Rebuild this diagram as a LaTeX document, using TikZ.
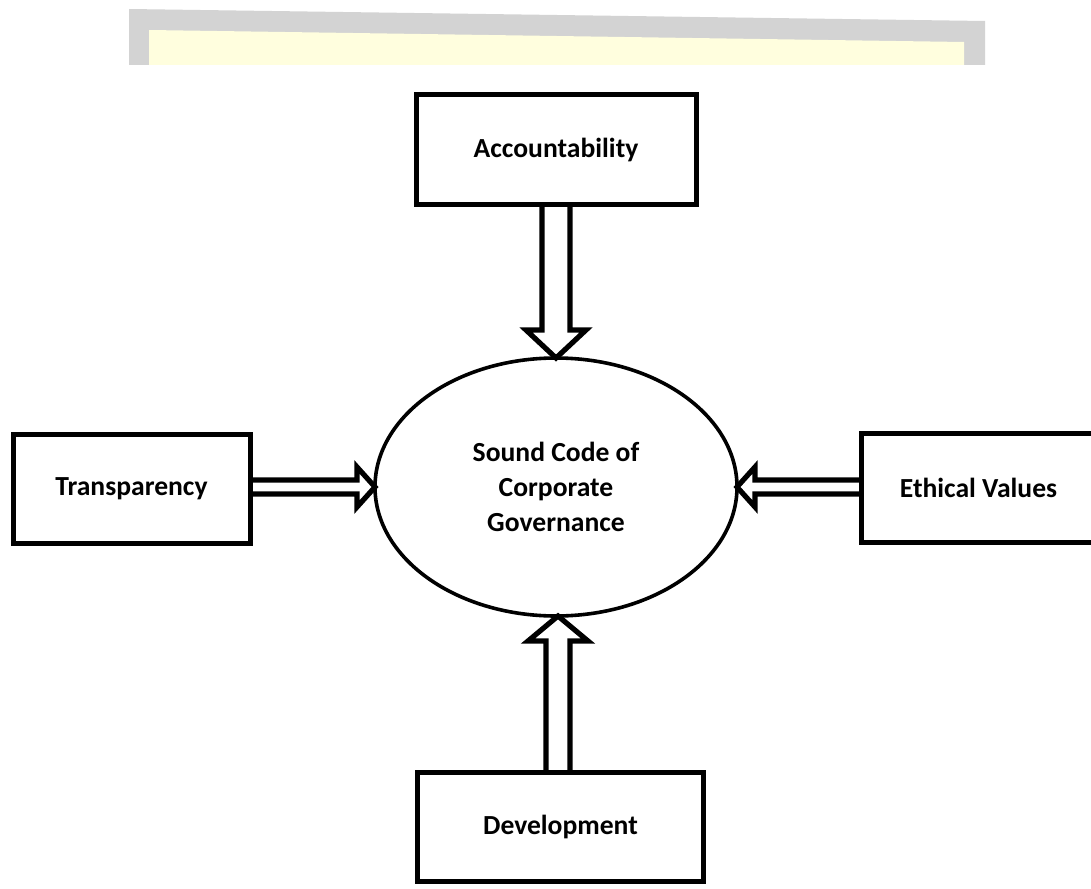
\documentclass[tikz,border=0pt]{standalone}
\usepackage{fontspec}
\setmainfont{Carlito}
\usetikzlibrary{positioning, shapes.geometric}
\definecolor{bargray}{RGB}{211,211,211}
\definecolor{barcream}{RGB}{255,254,222}

\begin{document}
\begin{tikzpicture}[x=0.5pt, y=-0.5pt,
     node distance = 77pt and 62.5pt,
        box/.style = {rectangle, draw, line width=2.5pt, outer sep=0pt,
                      minimum height=54.5pt, font=\bfseries\fontsize{13.8}{17.5}\selectfont},
       core/.style = {ellipse, draw, line width=1.8pt, inner sep=0pt, outer sep=0pt,
                      minimum width=181pt, minimum height=129pt, align=center,
                      font=\bfseries\fontsize{13.8}{17.5}\selectfont},
     hollow/.style = {draw, line width=2.6pt, line join=miter}
                        ]
\clip (0,0) rectangle (1091,888);
% banner at the top
\fill[bargray] (129,9) -- (985,21) -- (985,65) -- (129,65) -- cycle;
\fill[barcream] (149,30) -- (964,42) -- (964,65) -- (149,65) -- cycle;
% nodes
\node (code) [core] at (556,487) {Sound Code of\\ Corporate\\ Governance};
\node (acc)  [box, minimum width=140pt, above=of code] {Accountability};
\node (dev)  [box, minimum width=143pt, below=78pt of code, xshift=2.25pt] {Development};
\node (trans)[box, minimum width=118.5pt, left=of code, yshift=-1pt] {Transparency};
\node (eth)  [box, minimum width=117.5pt, right=62pt of code, yshift=-0.5pt] {Ethical Values};
% hollow arrows
\draw[hollow] ([xshift=-7pt]acc.south) -- ([xshift=-7pt,yshift=14pt]code.north)
   -- ([xshift=-15pt,yshift=14pt]code.north) -- (code.north)
   -- ([xshift=15pt,yshift=14pt]code.north) -- ([xshift=7pt,yshift=14pt]code.north)
   -- ([xshift=7pt]acc.south);
\draw[hollow] ([xshift=-5pt]code.south |- dev.north) -- ([xshift=-5pt,yshift=-12.5pt]code.south)
   -- ([xshift=-14pt,yshift=-12.5pt]code.south) -- ([xshift=1pt]code.south)
   -- ([xshift=16pt,yshift=-12.5pt]code.south) -- ([xshift=7pt,yshift=-12.5pt]code.south)
   -- ([xshift=7pt]code.south |- dev.north);
\draw[hollow] ([yshift=3.5pt]code.west -| trans.east) -- ([xshift=-9pt,yshift=3.5pt]code.west)
   -- ([xshift=-9pt,yshift=10pt]code.west) -- (code.west)
   -- ([xshift=-9pt,yshift=-10pt]code.west) -- ([xshift=-9pt,yshift=-3.5pt]code.west)
   -- ([yshift=-3.5pt]code.west -| trans.east);
\draw[hollow] ([yshift=3.5pt]code.east -| eth.west) -- ([xshift=9pt,yshift=3.5pt]code.east)
   -- ([xshift=9pt,yshift=10pt]code.east) -- (code.east)
   -- ([xshift=9pt,yshift=-10pt]code.east) -- ([xshift=9pt,yshift=-3.5pt]code.east)
   -- ([yshift=-3.5pt]code.east -| eth.west);
\end{tikzpicture}
\end{document}
